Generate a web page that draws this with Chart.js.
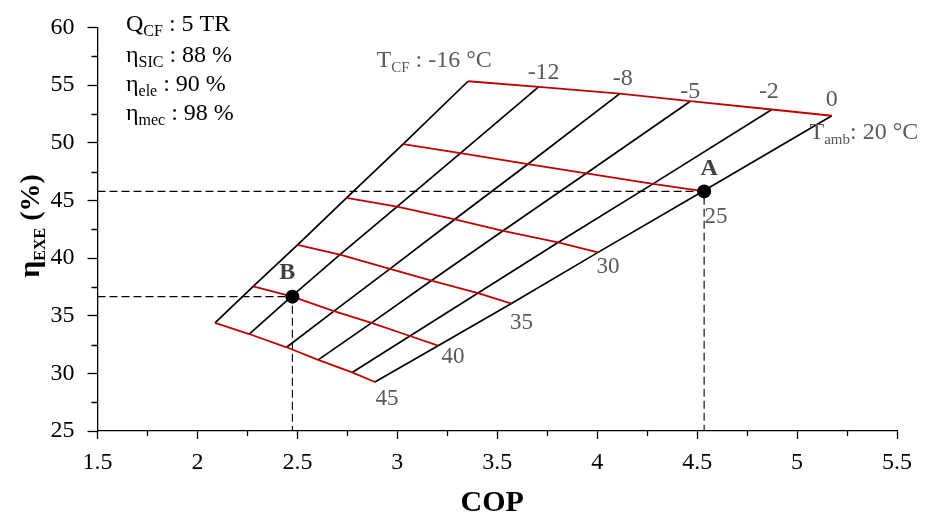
<!DOCTYPE html>
<html>
<head>
<meta charset="utf-8">
<script src="https://cdn.jsdelivr.net/npm/chart.js@4.4.0/dist/chart.umd.min.js"></script>
<style>
html,body{margin:0;padding:0;background:#ffffff;}
canvas{display:block;}
</style>
</head>
<body>
<canvas id="c" width="933" height="515"></canvas>
<script>
// ---------- DATA ----------
const tcfLevels  = [-16, -12, -8, -5, -2, 0];      // T_CF (°C), one black line each
const tambLevels = [20, 25, 30, 35, 40, 45];       // T_amb (°C), one red line each

// COP / eta_EXE along each T_CF line, for T_amb = 20, 25, 30, 35, 40, 45
const copTcfM16 = [3.354, 3.029, 2.746, 2.501, 2.279, 2.088];
const etaTcfM16 = [55.33, 49.87, 45.22, 41.15, 37.54, 34.38];
const copTcfM12 = [3.707, 3.316, 2.999, 2.713, 2.471, 2.259];
const etaTcfM12 = [54.84, 49.10, 44.45, 40.29, 36.68, 33.41];
const copTcfM8  = [4.113, 3.654, 3.288, 2.963, 2.683, 2.446];
const etaTcfM8  = [54.26, 48.15, 43.36, 39.06, 35.39, 32.26];
const copTcfM5  = [4.466, 3.946, 3.529, 3.171, 2.871, 2.604];
const etaTcfM5  = [53.60, 47.35, 42.36, 38.05, 34.38, 31.17];
const copTcfM2  = [4.874, 4.279, 3.804, 3.404, 3.063, 2.774];
const etaTcfM2  = [52.88, 46.43, 41.35, 36.96, 33.24, 30.08];
const copTcf0   = [5.174, 4.529, 4.004, 3.571, 3.204, 2.888];
const etaTcf0   = [52.34, 45.80, 40.49, 36.05, 32.40, 29.25];

// marked operating points A and B
const pointNames = ['A', 'B'];
const pointCop   = [4.535, 2.475];
const pointEta   = [45.78, 36.65];

// axis ticks
const xMin = 1.5, xMax = 5.5, xStep = 0.5;
const yMin = 25,  yMax = 60,  yStep = 5;

// ---------- BUILD ----------
const copByTcf = [copTcfM16, copTcfM12, copTcfM8, copTcfM5, copTcfM2, copTcf0];
const etaByTcf = [etaTcfM16, etaTcfM12, etaTcfM8, etaTcfM5, etaTcfM2, etaTcf0];

const SERIF = '"Liberation Serif", "Times New Roman", serif';
const GRAY = '#595959';
const RED = '#C00000';

const datasets = [];
datasets.push({
  label: 'points',
  data: pointCop.map((c, i) => ({ x: c, y: pointEta[i] })),
  showLine: false, pointRadius: 7, pointBackgroundColor: '#000', pointBorderColor: '#000', pointBorderWidth: 0
});
tambLevels.forEach((t, j) => {
  datasets.push({
    label: 'Tamb ' + t,
    data: tcfLevels.map((_, i) => ({ x: copByTcf[i][j], y: etaByTcf[i][j] })),
    showLine: true, borderColor: RED, borderWidth: 1.8, pointRadius: 0, tension: 0, fill: false
  });
});
tcfLevels.forEach((t, i) => {
  datasets.push({
    label: 'Tcf ' + t,
    data: tambLevels.map((_, j) => ({ x: copByTcf[i][j], y: etaByTcf[i][j] })),
    showLine: true, borderColor: '#000', borderWidth: 1.7, pointRadius: 0, tension: 0, fill: false
  });
});
pointCop.forEach((c, i) => {
  datasets.push({
    label: 'guide ' + pointNames[i],
    data: [{ x: xMin, y: pointEta[i] }, { x: c, y: pointEta[i] }, { x: c, y: yMin }],
    showLine: true, borderColor: '#000', borderWidth: 1.1, borderDash: [8, 4], pointRadius: 0, tension: 0, fill: false
  });
});

function drawRich(ctx, x, y, parts, color) {
  ctx.save();
  ctx.fillStyle = color;
  ctx.textAlign = 'left';
  ctx.textBaseline = 'alphabetic';
  let cx = x;
  parts.forEach(p => {
    ctx.font = (p[2] ? 'bold ' : '') + p[1] + 'px ' + SERIF;
    ctx.fillText(p[0], cx, y + (p[3] || 0));
    cx += ctx.measureText(p[0]).width;
  });
  ctx.restore();
}
function richWidth(ctx, parts) {
  let w = 0;
  ctx.save();
  parts.forEach(p => { ctx.font = (p[2] ? 'bold ' : '') + p[1] + 'px ' + SERIF; w += ctx.measureText(p[0]).width; });
  ctx.restore();
  return w;
}
function centerText(ctx, txt, cx, cy, size, bold, color) {
  ctx.save();
  ctx.font = (bold ? 'bold ' : '') + size + 'px ' + SERIF;
  ctx.fillStyle = color;
  ctx.textAlign = 'center';
  ctx.textBaseline = 'alphabetic';
  ctx.fillText(txt, cx, cy + 0.33 * size);
  ctx.restore();
}

const tcfLabelOff  = [[-91.6, -14.3], [5, -15.5], [3, -17], [0, -11], [-3, -19], [0, -17.5]];
const tambLabelOff = [[-22.3, 23], [13, 24], [10, 13], [10, 18], [15, 10], [12, 15]];
const pointLabelOff = [[5, -24], [-5, -26]];

const annotPlugin = {
  id: 'annot',
  afterDraw(chart) {
    const ctx = chart.ctx, xs = chart.scales.x, ys = chart.scales.y, ca = chart.chartArea;
    const px = v => xs.getPixelForValue(v), py = v => ys.getPixelForValue(v);

    // minor ticks
    ctx.save();
    ctx.strokeStyle = '#000'; ctx.lineWidth = 1.3;
    ctx.beginPath();
    for (let v = xMin + xStep / 2; v < xMax; v += xStep) {
      const x = Math.round(px(v)) + 0.5;
      ctx.moveTo(x, ca.bottom); ctx.lineTo(x, ca.bottom + 5);
    }
    for (let v = yMin + yStep / 2; v < yMax; v += yStep) {
      const y = Math.round(py(v)) + 0.5;
      ctx.moveTo(ca.left - 6, y); ctx.lineTo(ca.left, y);
    }
    ctx.stroke();
    ctx.restore();

    tcfLevels.forEach((t, i) => {
      const x = px(copByTcf[i][0]) + tcfLabelOff[i][0];
      const y = py(etaByTcf[i][0]) + tcfLabelOff[i][1];
      if (i === 0) {
        drawRich(ctx, x, y, [['T', 24], ['CF', 15, false, 5], [' : ' + t + ' °C', 24]], GRAY);
      } else {
        centerText(ctx, String(t), x, y, 24, false, GRAY);
      }
    });
    tambLevels.forEach((t, j) => {
      const last = tcfLevels.length - 1;
      const x = px(copByTcf[last][j]) + tambLabelOff[j][0];
      const y = py(etaByTcf[last][j]) + tambLabelOff[j][1];
      if (j === 0) {
        drawRich(ctx, x, y, [['T', 24], ['amb', 15, false, 5], [': ' + t + ' °C', 24]], GRAY);
      } else {
        centerText(ctx, String(t), x, y, 23, false, GRAY);
      }
    });
    pointNames.forEach((n, i) => {
      centerText(ctx, n, px(pointCop[i]) + pointLabelOff[i][0], py(pointEta[i]) + pointLabelOff[i][1], 24, true, '#404040');
    });

    const lx = ca.left + 28.5;
    drawRich(ctx, lx, ca.top + 4, [['Q', 24], ['CF', 16, false, 5], [' : 5 TR', 24]], '#000');
    drawRich(ctx, lx, ca.top + 34.5, [['η', 24], ['SIC', 16, false, 5], [' : 88 %', 24]], '#000');
    drawRich(ctx, lx, ca.top + 64, [['η', 24], ['ele', 16, false, 5], [' : 90 %', 24]], '#000');
    drawRich(ctx, lx, ca.top + 93, [['η', 24], ['mec', 16, false, 5], [' : 98 %', 24]], '#000');

    centerText(ctx, 'COP', (ca.left + ca.right) / 2 - 5, 501, 30, true, '#000');

    const yParts = [['η', 30, true], ['EXE', 16, true, 6], [' (%)', 28, true]];
    const w = richWidth(ctx, yParts);
    ctx.save();
    ctx.translate(39, 226);
    ctx.rotate(-Math.PI / 2);
    drawRich(ctx, -w / 2, 0, yParts, '#000');
    ctx.restore();
  }
};

new Chart(document.getElementById('c'), {
  type: 'scatter',
  data: { datasets },
  options: {
    responsive: false,
    animation: false,
    events: [],
    layout: { padding: { left: 0, right: 36, top: 25, bottom: 0 } },
    plugins: { legend: { display: false }, tooltip: { enabled: false } },
    scales: {
      x: {
        type: 'linear', min: xMin, max: xMax,
        afterFit: s => { s.height = 84; },
        border: { display: true, color: '#000', width: 1.3 },
        grid: { display: true, drawOnChartArea: false, drawTicks: true, tickLength: 8, tickColor: '#000', tickWidth: 1.3 },
        ticks: { stepSize: xStep, color: '#000', padding: 9, maxRotation: 0, font: { family: SERIF, size: 24 },
                 callback: v => String(Math.round(v * 10) / 10) }
      },
      y: {
        type: 'linear', min: yMin, max: yMax,
        afterFit: s => { s.width = 97.5; },
        border: { display: true, color: '#000', width: 1.3 },
        grid: { display: true, drawOnChartArea: false, drawTicks: true, tickLength: 10, tickColor: '#000', tickWidth: 1.3 },
        ticks: { stepSize: yStep, color: '#000', padding: 13, font: { family: SERIF, size: 24 } }
      }
    }
  },
  plugins: [annotPlugin]
});
</script>
</body>
</html>
